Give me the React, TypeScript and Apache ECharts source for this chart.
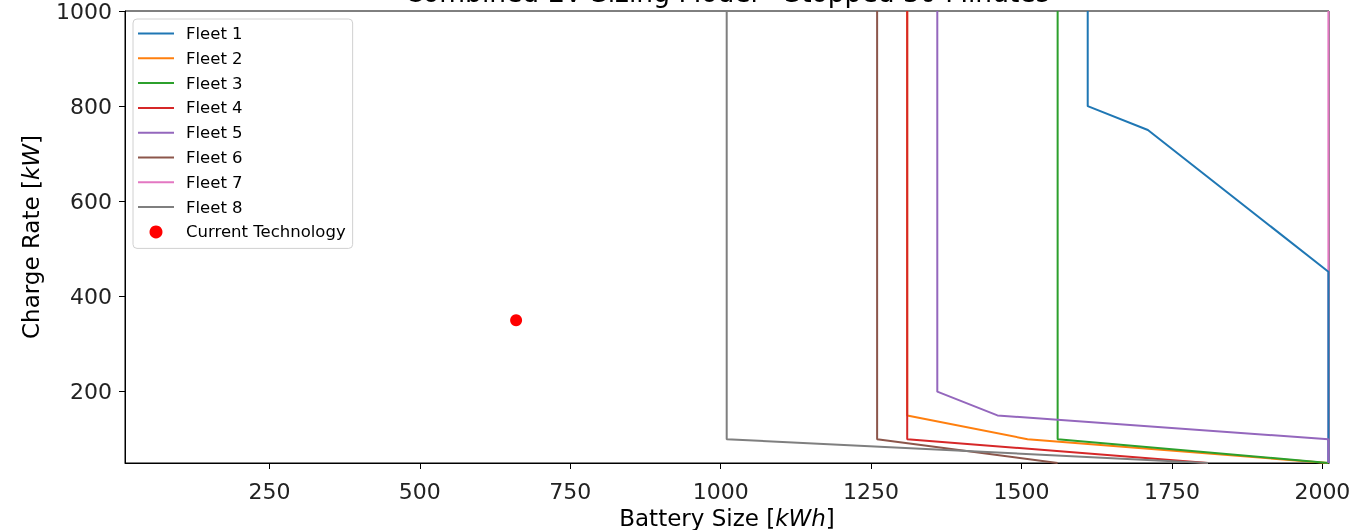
import React, { useEffect, useRef } from 'react';
import * as echarts from 'echarts';

const titleText = 'Combined EV Sizing Model - Stopped 30 Minutes';
const fleetNames = ['Fleet 1', 'Fleet 2', 'Fleet 3', 'Fleet 4', 'Fleet 5', 'Fleet 6', 'Fleet 7', 'Fleet 8'];
const fleetColors = ['#1f77b4', '#ff7f0e', '#2ca02c', '#d62728', '#9467bd', '#8c564b', '#e377c2', '#7f7f7f'];

// [battery size kWh, charge rate kW]
const fleet1 = [[1610, 1000], [1610, 800], [1710, 750], [2010, 452], [2010, 50]];
const fleet2 = [[1310, 1000], [1310, 150], [1510, 100], [2010, 50]];
const fleet3 = [[1560, 1000], [1560, 100], [2010, 50]];
const fleet4 = [[1310, 1000], [1310, 100], [1810, 50]];
const fleet5 = [[1360, 1000], [1360, 200], [1460, 150], [2010, 100], [2010, 50]];
const fleet6 = [[1260, 1000], [1260, 100], [1560, 50]];
const fleet7 = [[2010, 1000], [2010, 50]];
const fleet8 = [[1010, 1000], [1010, 100], [1810, 50]];
const currentTech = [[660, 350]];

const xTicks = [250, 500, 750, 1000, 1250, 1500, 1750, 2000];
const yTicks = [200, 400, 600, 800, 1000];

const fleetData = [fleet1, fleet2, fleet3, fleet4, fleet5, fleet6, fleet7, fleet8];
const FONT = 'DejaVu Sans';
const LINE_ICON = 'path://M0,0H36V2H0Z';

export default function App() {
  const ref = useRef<HTMLDivElement>(null);
  useEffect(() => {
    const chart = echarts.init(ref.current!, null, { renderer: 'svg' });
    const lineSeries = fleetData.map((d, i) => ({
      type: 'line',
      name: fleetNames[i],
      data: d,
      symbol: 'none',
      z: i === 6 ? 1 : 2,
      lineStyle: { color: fleetColors[i], width: 2 },
      itemStyle: { color: fleetColors[i] },
      emphasis: { disabled: true },
    }));
    const nameStyle = {
      fontSize: 23,
      fontFamily: FONT,
      color: '#000',
      rich: { i: { fontStyle: 'italic', fontSize: 23, fontFamily: FONT, color: '#000' } },
    };
    chart.setOption({
      animation: false,
      textStyle: { fontFamily: FONT },
      graphic: [
        {
          type: 'text',
          x: 727,
          y: 6,
          style: {
            text: titleText,
            align: 'center',
            verticalAlign: 'bottom',
            fontSize: 26.5,
            fontFamily: FONT,
            fill: '#000',
          },
        },
      ],
      grid: {
        left: 125,
        right: 26,
        top: 11,
        bottom: 67,
        show: true,
        borderColor: '#000',
        borderWidth: 1,
        backgroundColor: 'transparent',
        containLabel: false,
        outerBoundsMode: 'none',
      },
      legend: {
        orient: 'vertical',
        left: 133,
        top: 19,
        padding: [6, 7, 8, 5],
        itemWidth: 36,
        itemHeight: 13,
        itemGap: 7.8,
        borderColor: '#d0d0d0',
        borderWidth: 1,
        borderRadius: 4,
        backgroundColor: '#fff',
        symbolKeepAspect: true,
        textStyle: { fontSize: 16.5, fontFamily: FONT, color: '#000', padding: [0, 0, 0, 7] },
        data: [
          ...fleetNames.map((n, i) => ({ name: n, icon: LINE_ICON, itemStyle: { color: fleetColors[i] } })),
          { name: 'Current Technology', icon: 'circle' },
        ],
      },
      xAxis: {
        type: 'value',
        min: 10,
        max: 2011,
        name: 'Battery Size [{i|kWh}]',
        nameLocation: 'middle',
        nameGap: 42,
        nameTextStyle: nameStyle,
        splitLine: { show: false },
        axisLine: { show: true, onZero: false, lineStyle: { color: '#000', width: 1 } },
        axisTick: { show: true, length: 6, lineStyle: { color: '#000' }, customValues: xTicks },
        axisLabel: {
          fontSize: 22,
          fontFamily: FONT,
          color: '#222',
          margin: 17,
          customValues: xTicks,
          formatter: (v: number) => String(v),
        },
      },
      yAxis: {
        type: 'value',
        min: 50,
        max: 1000,
        name: 'Charge Rate [{i|kW}]',
        nameLocation: 'middle',
        nameGap: 83,
        nameRotate: 90,
        nameTextStyle: nameStyle,
        splitLine: { show: false },
        axisLine: { show: true, onZero: false, lineStyle: { color: '#000', width: 1 } },
        axisTick: { show: true, length: 6, lineStyle: { color: '#000' }, customValues: yTicks },
        axisLabel: {
          fontSize: 22,
          fontFamily: FONT,
          color: '#222',
          margin: 13,
          customValues: yTicks,
          formatter: (v: number) => String(v),
        },
      },
      series: [
        ...lineSeries,
        {
          type: 'scatter',
          name: 'Current Technology',
          data: currentTech,
          symbol: 'circle',
          symbolSize: 12,
          z: 3,
          itemStyle: { color: '#ff0000', opacity: 1 },
          emphasis: { disabled: true },
        },
      ],
    });
    return () => chart.dispose();
  }, []);
  return <div ref={ref} style={{ position: 'fixed', left: 0, top: 0, width: 1355, height: 530 }} />;
}
